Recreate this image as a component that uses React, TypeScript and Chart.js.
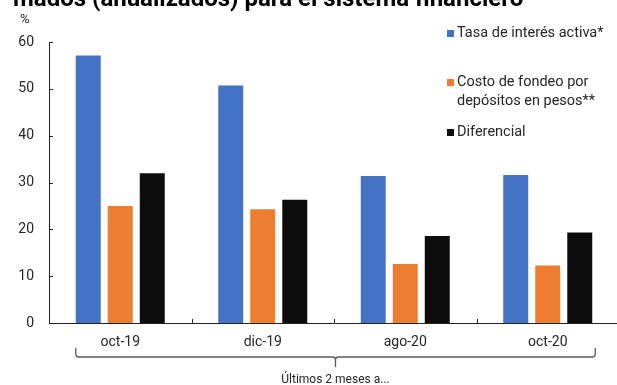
import React, { useEffect, useRef } from "react";
import { Chart, registerables } from "chart.js";

Chart.register(...registerables);

const categories = ["oct-19", "dic-19", "ago-20", "oct-20"];
const tasaActiva = [57.1, 50.7, 31.4, 31.6];
const costoFondeo = [25.0, 24.3, 12.6, 12.3];
const diferencial = [32.0, 26.3, 18.6, 19.3];
const seriesNames = ["Tasa de interés activa*", "Costo de fondeo por\ndepósitos en pesos**", "Diferencial"];
const seriesColors = ["#4472C4", "#ED7D31", "#0D0D0D"];
const yTicks = [0, 10, 20, 30, 40, 50, 60];
const titleText = "mados (anualizados) para el sistema financiero";
const unitText = "%";
const braceText = "Últimos 2 meses a...";

const FONT = "Roboto, 'Noto Sans', sans-serif";
const TEXT = "#262626";

const decorPlugin = {
  id: "decor",
  afterDraw(chart: any) {
    const ctx = chart.ctx;
    const x = chart.scales.x;
    const y = chart.scales.y;
    const area = chart.chartArea;
    ctx.save();
    // title (cut off at the top of the picture)
    ctx.fillStyle = "#000";
    ctx.font = `bold 24px ${FONT}`;
    ctx.textBaseline = "alphabetic";
    ctx.textAlign = "left";
    ctx.fillText(titleText, 13, 5.5);
    // unit
    ctx.fillStyle = TEXT;
    ctx.font = `13px ${FONT}`;
    ctx.textBaseline = "middle";
    ctx.fillText(unitText, 20, 20);
    // inward ticks
    ctx.strokeStyle = "#222";
    ctx.lineWidth = 1;
    ctx.beginPath();
    yTicks.forEach((v) => {
      const py = Math.round(y.getPixelForValue(v)) + 0.5;
      ctx.moveTo(area.left, py);
      ctx.lineTo(area.left + 4, py);
    });
    const step = x.getPixelForValue(1) - x.getPixelForValue(0);
    for (let i = 1; i <= categories.length; i++) {
      let p = Math.round(x.getPixelForValue(i - 1) + step / 2) + 0.5;
      if (i === categories.length) p -= 1;
      ctx.moveTo(p, area.bottom);
      ctx.lineTo(p, area.bottom - 4);
    }
    ctx.stroke();
    // brace
    const m0 = chart.getDatasetMeta(0).data[0];
    const m2 = chart.getDatasetMeta(2).data[categories.length - 1];
    const bl = m0.x - m0.width / 2;
    const br = m2.x + m2.width / 2 + 3;
    const mid = (bl + br) / 2;
    const top = 348, bot = 357, r = 3;
    ctx.strokeStyle = "#595959";
    ctx.lineWidth = 1.3;
    ctx.beginPath();
    ctx.moveTo(bl, top);
    ctx.lineTo(bl, bot - r);
    ctx.quadraticCurveTo(bl, bot, bl + r, bot);
    ctx.lineTo(mid - r, bot);
    ctx.quadraticCurveTo(mid, bot, mid, bot + r);
    ctx.lineTo(mid, 367);
    ctx.moveTo(mid, bot + r);
    ctx.quadraticCurveTo(mid, bot, mid + r, bot);
    ctx.lineTo(br - r, bot);
    ctx.quadraticCurveTo(br, bot, br, bot - r);
    ctx.lineTo(br, top);
    ctx.stroke();
    ctx.fillStyle = TEXT;
    ctx.font = `12px ${FONT}`;
    ctx.textAlign = "center";
    ctx.textBaseline = "middle";
    ctx.fillText(braceText, mid, 380);
    // legend
    const legendY = [33.5, 82.5, 132.5];
    ctx.font = `14.5px ${FONT}`;
    ctx.textAlign = "left";
    ctx.textBaseline = "middle";
    seriesNames.forEach((name, i) => {
      ctx.fillStyle = seriesColors[i];
      ctx.fillRect(447, legendY[i] - 3.5, 7, 7);
      ctx.fillStyle = TEXT;
      name.split("\n").forEach((line, j) => {
        ctx.fillText(line, 457, legendY[i] + j * 18.5);
      });
    });
    ctx.restore();
  },
};

export default function App() {
  const ref = useRef<HTMLCanvasElement>(null);
  useEffect(() => {
    const canvas = ref.current!;
    const datasets = [tasaActiva, costoFondeo, diferencial].map((d, i) => ({
      label: seriesNames[i],
      data: d,
      backgroundColor: seriesColors[i],
      borderWidth: 0,
      barPercentage: 0.78,
      categoryPercentage: 0.674,
    }));
    const chart = new Chart(canvas, {
      type: "bar",
      data: { labels: categories, datasets },
      options: {
        animation: false,
        responsive: false,
        devicePixelRatio: 1,
        layout: { padding: { top: 42, right: 2, left: 0, bottom: 0 } },
        plugins: { legend: { display: false }, tooltip: { enabled: false } },
        scales: {
          x: {
            grid: { display: false, drawTicks: false },
            border: { display: true, color: "#222", width: 1 },
            ticks: { color: TEXT, font: { family: FONT, size: 14 }, padding: 11, maxRotation: 0 },
            afterFit: (s: any) => { s.height = 62; },
          },
          y: {
            min: 0,
            max: 60,
            grid: { display: false, drawTicks: false },
            border: { display: true, color: "#222", width: 1 },
            ticks: { stepSize: 10, color: TEXT, font: { family: FONT, size: 14 }, padding: 15 },
            afterFit: (s: any) => { s.width = 49; },
          },
        },
      },
      plugins: [decorPlugin],
    });
    return () => chart.destroy();
  }, []);
  return (
    <div style={{ position: "fixed", left: 0, top: 0, width: 617, height: 385, overflow: "hidden", background: "#fff" }}>
      <canvas ref={ref} width={621} height={385} style={{ width: 621, height: 385, display: "block" }} />
    </div>
  );
}
